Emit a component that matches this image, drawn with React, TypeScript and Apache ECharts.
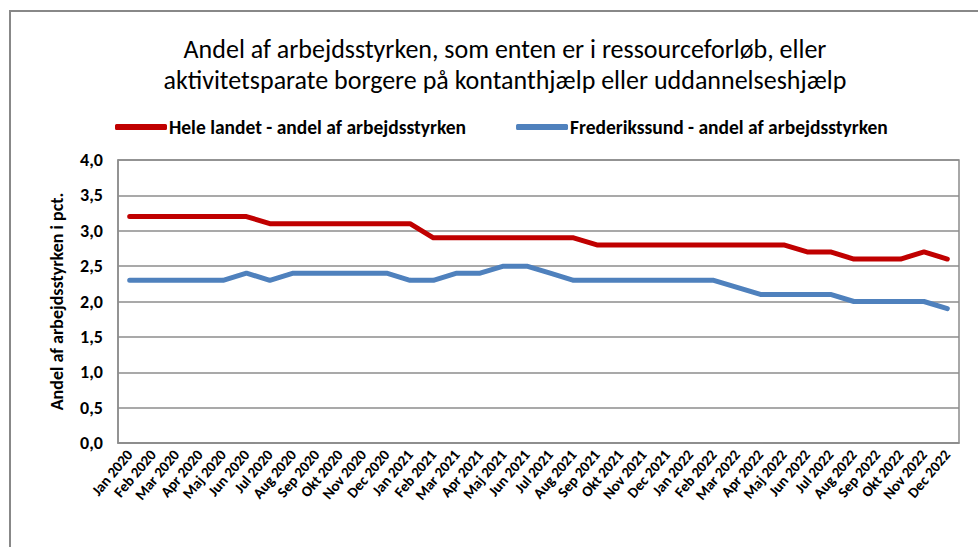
import React, { useEffect, useRef } from "react";
import * as echarts from "echarts";

const months = ["Jan", "Feb", "Mar", "Apr", "Maj", "Jun", "Jul", "Aug", "Sep", "Okt", "Nov", "Dec"];
const years = ["2020", "2021", "2022"];
const categories: string[] = years.flatMap((y) => months.map((m) => `${m} ${y}`));

const heleLandet = [
  3.2, 3.2, 3.2, 3.2, 3.2, 3.2, 3.1, 3.1, 3.1, 3.1, 3.1, 3.1,
  3.1, 2.9, 2.9, 2.9, 2.9, 2.9, 2.9, 2.9, 2.8, 2.8, 2.8, 2.8,
  2.8, 2.8, 2.8, 2.8, 2.8, 2.7, 2.7, 2.6, 2.6, 2.6, 2.7, 2.6,
];
const frederikssund = [
  2.3, 2.3, 2.3, 2.3, 2.3, 2.4, 2.3, 2.4, 2.4, 2.4, 2.4, 2.4,
  2.3, 2.3, 2.4, 2.4, 2.5, 2.5, 2.4, 2.3, 2.3, 2.3, 2.3, 2.3,
  2.3, 2.3, 2.2, 2.1, 2.1, 2.1, 2.1, 2.0, 2.0, 2.0, 2.0, 1.9,
];

const seriesNames = [
  "Hele landet - andel af arbejdsstyrken",
  "Frederikssund - andel af arbejdsstyrken",
];
const titleText =
  "Andel af arbejdsstyrken, som enten er i ressourceforløb, eller\naktivitetsparate borgere på kontanthjælp eller uddannelseshjælp";
const yAxisName = "Andel af arbejdsstyrken i pct.";

const FONT = "Carlito, 'Liberation Sans Narrow', 'DejaVu Sans Condensed', sans-serif";

export default function App() {
  const ref = useRef<HTMLDivElement>(null);
  useEffect(() => {
    if (!ref.current) return;
    const chart = echarts.init(ref.current, null, { renderer: "svg" });
    chart.setOption({
      animation: false,
      backgroundColor: "#ffffff",
      textStyle: { fontFamily: FONT },
      title: {
        text: titleText,
        left: 500,
        top: 28,
        textAlign: "center",
        textStyle: {
          fontFamily: FONT,
          fontSize: 26,
          fontWeight: "normal",
          color: "#000",
          lineHeight: 31,
        },
      },
      legend: {
        top: 112,
        left: 110,
        itemWidth: 52,
        itemHeight: 6,
        itemGap: 50,
        icon: "roundRect",
        textStyle: { fontFamily: FONT, fontSize: 19.5, fontWeight: "bold", color: "#000", padding: [0, 0, 0, -3] },
        data: seriesNames,
      },
      graphic: [
        {
          type: "rect",
          shape: { x: 10, y: 11, width: 1200, height: 800 },
          style: { fill: "none", stroke: "#888", lineWidth: 2 },
          silent: true,
        },
      ],
      grid: {
        left: 118,
        right: 19,
        top: 160,
        bottom: 104,
        show: true,
        borderColor: "#8c8c8c",
        borderWidth: 1.5,
        containLabel: false,
      },
      xAxis: {
        type: "category",
        data: categories,
        boundaryGap: true,
        axisLine: { show: true, lineStyle: { color: "#8c8c8c", width: 1.5 } },
        axisTick: { show: false },
        axisLabel: {
          interval: 0,
          rotate: 50,
          fontFamily: FONT,
          fontSize: 15,
          fontWeight: "bold",
          color: "#000",
          margin: 9,
        },
      },
      yAxis: {
        type: "value",
        min: 0,
        max: 4,
        interval: 0.5,
        name: yAxisName,
        nameLocation: "middle",
        nameRotate: 90,
        nameGap: 52,
        nameTextStyle: { fontFamily: FONT, fontSize: 18, fontWeight: "bold", color: "#000" },
        axisLine: { show: true, lineStyle: { color: "#8c8c8c", width: 1.5 } },
        axisTick: { show: false },
        splitLine: { show: true, lineStyle: { color: "#8c8c8c", width: 1.5 } },
        axisLabel: {
          fontFamily: FONT,
          fontSize: 18,
          fontWeight: "bold",
          color: "#000",
          margin: 15,
          formatter: (v: number) => v.toFixed(1).replace(".", ","),
        },
      },
      series: [
        {
          name: seriesNames[0],
          type: "line",
          data: heleLandet,
          showSymbol: false,
          symbol: "none",
          itemStyle: { color: "#C00000" },
          lineStyle: { color: "#C00000", width: 5, cap: "round", join: "round" },
        },
        {
          name: seriesNames[1],
          type: "line",
          data: frederikssund,
          showSymbol: false,
          symbol: "none",
          itemStyle: { color: "#4F81BD" },
          lineStyle: { color: "#4F81BD", width: 5, cap: "round", join: "round" },
        },
      ],
    });
    return () => chart.dispose();
  }, []);
  return (
    <div
      ref={ref}
      style={{ position: "fixed", left: 0, top: 0, width: 978, height: 547, background: "#fff" }}
    />
  );
}
